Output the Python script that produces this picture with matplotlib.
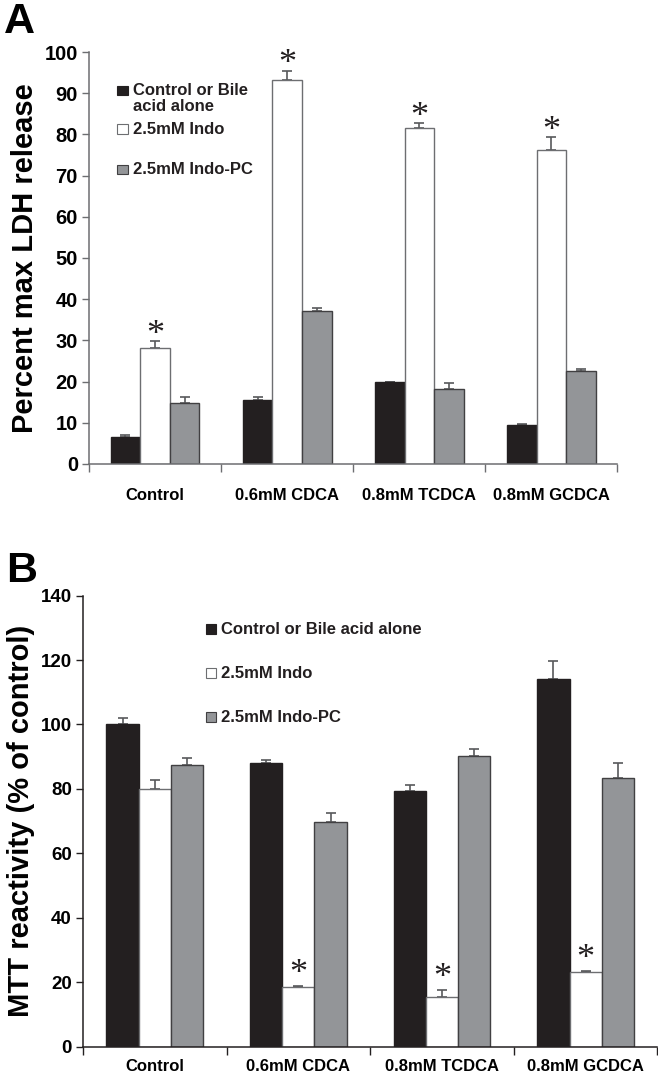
import matplotlib.pyplot as plt
import numpy as np
from matplotlib.patches import Rectangle

plt.rcParams['font.family'] = ['Liberation Sans', 'DejaVu Sans']
plt.rcParams['font.weight'] = 'bold'
plt.rcParams['axes.labelweight'] = 'bold'

groups = ['Control', '0.6mM CDCA', '0.8mM TCDCA', '0.8mM GCDCA']
labels_a = ['Control or Bile\nacid alone', '2.5mM Indo', '2.5mM Indo-PC']
labels_b = ['Control or Bile acid alone', '2.5mM Indo', '2.5mM Indo-PC']

# panel A: percent max LDH release
ldh_alone = [6.6, 15.6, 19.8, 9.5]
ldh_alone_err = [0.5, 0.6, 0.2, 0.3]
ldh_indo = [28.1, 93.1, 81.5, 76.1]
ldh_indo_err = [1.8, 2.4, 1.3, 3.3]
ldh_indopc = [14.8, 37.1, 18.1, 22.6]
ldh_indopc_err = [1.5, 0.7, 1.5, 0.5]
ldh_stars = [True, True, True, True]  # on the Indo bars

# panel B: MTT reactivity
mtt_alone = [100.2, 88.1, 79.2, 114.2]
mtt_alone_err = [1.7, 0.9, 2.1, 5.5]
mtt_indo = [79.9, 18.5, 15.5, 23.1]
mtt_indo_err = [2.8, 0.4, 2.0, 0.3]
mtt_indopc = [87.3, 69.6, 90.3, 83.4]
mtt_indopc_err = [2.3, 3.0, 2.0, 4.5]
mtt_stars = [False, True, True, True]

fills = ['#231f20', 'white', '#939598']
edges = ['#231f20', '#6d6e71', '#414042']


def draw_panel(ax, series, errors, stars, star_offset, spine_color):
    x = np.arange(len(groups))
    w = 0.224
    for i, (vals, errs) in enumerate(zip(series, errors)):
        xs = x + (i - 1) * w
        ax.bar(xs, vals, width=w, color=fills[i], edgecolor=edges[i],
               linewidth=1.0, zorder=2)
        ax.errorbar(xs, vals, yerr=[np.zeros(len(vals)), errs], fmt='none',
                    ecolor='#58595b', elinewidth=1.2, capsize=3.5,
                    capthick=1.2, zorder=1)
    # significance marks on the Indo bars
    for xi, v, e, s in zip(x, series[1], errors[1], stars):
        if s:
            ax.annotate('*', (xi, v + e), xytext=(0, star_offset),
                        textcoords='offset points', ha='center', va='baseline',
                        fontsize=26, fontweight='normal',
                        family='Liberation Serif', color='#231f20')
    ax.set_xlim(-0.5, len(groups) - 0.5)
    ax.set_xticks(np.arange(len(groups) + 1) - 0.5)
    ax.set_xticklabels([])
    ax.set_xticks(x, minor=True)
    ax.set_xticklabels(groups, minor=True, fontsize=12)
    ax.tick_params(axis='x', which='major', length=6, width=1,
                   color=spine_color, direction='out')
    ax.tick_params(axis='y', which='major', length=5, width=1,
                   color=spine_color, direction='out')
    for side in ['top', 'right']:
        ax.spines[side].set_visible(False)
    for side in ['left', 'bottom']:
        ax.spines[side].set_color(spine_color)
        ax.spines[side].set_linewidth(1.1)


def legend_rows(ax, labels, x0, ys, size, line_step):
    for lab, y, fc, ec in zip(labels, ys, fills, edges):
        ax.add_patch(Rectangle((x0, y), size[0], size[1], facecolor=fc,
                               edgecolor=ec, linewidth=0.8,
                               transform=ax.transAxes, clip_on=False))
        for k, line in enumerate(lab.split('\n')):
            ax.text(x0 + size[0] + 0.01, y - k * line_step, line,
                    transform=ax.transAxes, fontsize=12, va='baseline',
                    ha='left', color='#231f20')


fig = plt.figure(figsize=(6.58, 10.77), dpi=100)

ax_a = fig.add_axes([0.1353, 0.5692, 0.8031, 0.3825])
draw_panel(ax_a, [ldh_alone, ldh_indo, ldh_indopc],
           [ldh_alone_err, ldh_indo_err, ldh_indopc_err],
           ldh_stars, -2, '#6d6e71')
ax_a.set_ylim(0, 100)
ax_a.set_yticks(np.arange(0, 101, 10))
ax_a.tick_params(axis='y', labelsize=14.5, pad=3)
ax_a.tick_params(axis='x', which='minor', length=0, pad=17)
ax_a.set_ylabel('Percent max LDH release', fontsize=21, labelpad=4)
legend_rows(ax_a, labels_a, 0.0535, [0.8956, 0.8017, 0.7039],
            (0.0197, 0.023), 0.0388)

ax_b = fig.add_axes([0.126, 0.0283, 0.8732, 0.4186])
draw_panel(ax_b, [mtt_alone, mtt_indo, mtt_indopc],
           [mtt_alone_err, mtt_indo_err, mtt_indopc_err],
           mtt_stars, 2, '#231f20')
ax_b.set_ylim(0, 140)
ax_b.set_yticks(np.arange(0, 141, 20))
ax_b.tick_params(axis='y', labelsize=13.5, pad=3)
ax_b.tick_params(axis='x', which='minor', length=0, pad=9)
ax_b.set_ylabel('MTT reactivity (% of control)', fontsize=21, labelpad=4)
legend_rows(ax_b, labels_b, 0.2136, [0.915, 0.8168, 0.7205],
            (0.0174, 0.0222), 0.035)

fig.text(0.006, 0.998, 'A', fontsize=31, va='top', ha='left')
fig.text(0.010, 0.488, 'B', fontsize=31, va='top', ha='left')

fig.savefig('out.png', dpi=100)
